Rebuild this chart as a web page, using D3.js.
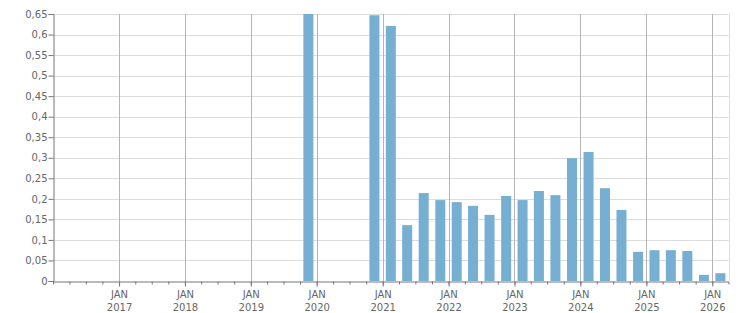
<!DOCTYPE html>
<html>
<head>
<meta charset="utf-8">
<script src="https://cdn.jsdelivr.net/npm/d3@7"></script>
<style>
  body { margin: 0; background: #fff; }
  svg text { font-family: "DejaVu Sans", Verdana, sans-serif; font-size: 10px; fill: #666; }
</style>
</head>
<body>
<svg id="chart" width="751" height="313"></svg>
<script>
// quarters (start month) and values
var quarters = ["2019-10", "2020-01", "2020-04", "2020-07", "2020-10",
    "2021-01", "2021-04", "2021-07", "2021-10",
    "2022-01", "2022-04", "2022-07", "2022-10",
    "2023-01", "2023-04", "2023-07", "2023-10",
    "2024-01", "2024-04", "2024-07", "2024-10",
    "2025-01", "2025-04", "2025-07", "2025-10",
    "2026-01"];
var values = [0.65, 0, 0, 0, 0.647,
    0.621, 0.136, 0.214, 0.197,
    0.192, 0.183, 0.161, 0.207,
    0.197, 0.219, 0.209, 0.299,
    0.314, 0.226, 0.173, 0.071,
    0.075, 0.075, 0.073, 0.015,
    0.019];
var yTicks = [0, 0.05, 0.1, 0.15, 0.2, 0.25, 0.3, 0.35, 0.4, 0.45, 0.5, 0.55, 0.6, 0.65];
var yearTicks = [2017, 2018, 2019, 2020, 2021, 2022, 2023, 2024, 2025, 2026];

var svg = d3.select("#chart"),
    margin = { top: 14, right: 22.5, bottom: 32, left: 53 },
    width = +svg.attr("width") - margin.left - margin.right,
    height = +svg.attr("height") - margin.top - margin.bottom;

var parse = d3.timeParse("%Y-%m");
var data = quarters.map(function (q, i) {
    var start = parse(q);
    return { start: start, end: d3.timeMonth.offset(start, 3), value: values[i] };
});

var x = d3.scaleTime()
    .domain([new Date(2016, 0, 1), new Date(2026, 3, 1)])
    .range([0, width]);
var y = d3.scaleLinear().domain([0, 0.65]).range([height, 0]);

var g = svg.append("g")
    .attr("transform", "translate(" + margin.left + "," + margin.top + ")");

var fmt = function (d) { return String(+d.toFixed(2)).replace(".", ","); };

// horizontal grid
g.append("g").selectAll("line")
    .data(yTicks.slice(1))
    .enter().append("line")
    .attr("x1", 0).attr("x2", width)
    .attr("y1", function (d) { return Math.round(y(d)) + 0.5; })
    .attr("y2", function (d) { return Math.round(y(d)) + 0.5; })
    .attr("stroke", "#dcdcdc");

// vertical year grid
var janDates = yearTicks.map(function (yr) { return new Date(yr, 0, 1); });
g.append("g").selectAll("line")
    .data(janDates)
    .enter().append("line")
    .attr("x1", function (d) { return Math.round(x(d)) + 0.5; })
    .attr("x2", function (d) { return Math.round(x(d)) + 0.5; })
    .attr("y1", 0).attr("y2", height)
    .attr("stroke", "#b4b4b4");

// right border
g.append("line")
    .attr("x1", Math.round(width) + 0.5).attr("x2", Math.round(width) + 0.5)
    .attr("y1", 0).attr("y2", height)
    .attr("stroke", "#dcdcdc");

// bars
var barW = 10;
g.selectAll(".bar")
    .data(data)
    .enter().append("rect")
    .attr("class", "bar")
    .attr("x", function (d) { return (x(d.start) + x(d.end)) / 2 - barW / 2; })
    .attr("width", barW)
    .attr("y", function (d) { return y(d.value); })
    .attr("height", function (d) { return height - y(d.value); })
    .attr("fill", "#77afd2");

// y axis
var yAxis = g.append("g")
    .attr("transform", "translate(0.5,0)")
    .call(d3.axisLeft(y).tickValues(yTicks).tickFormat(fmt).tickSize(5).tickPadding(1));
yAxis.select(".domain").attr("stroke", "#777");
yAxis.selectAll(".tick line").attr("stroke", "#777");
yAxis.selectAll("text").style("fill", "#666");

// x axis: quarter minor ticks
var quarterTicks = d3.timeMonth.every(3).range(new Date(2016, 3, 1), new Date(2026, 3, 1));
var xAxis = g.append("g")
    .attr("transform", "translate(0," + (Math.round(height) + 0.5) + ")")
    .call(d3.axisBottom(x).tickValues(quarterTicks).tickSize(3).tickFormat(""));
xAxis.select(".domain").attr("stroke", "#777");
xAxis.selectAll(".tick line").attr("stroke", "#777");

// x axis: JAN labels
var xLabels = g.append("g")
    .attr("transform", "translate(0," + (Math.round(height) + 0.5) + ")")
    .call(d3.axisBottom(x).tickValues(janDates).tickSize(5).tickFormat(""));
xLabels.select(".domain").remove();
xLabels.selectAll(".tick line").attr("stroke", "#777");
xLabels.selectAll(".tick").each(function (d) {
    var t = d3.select(this).append("text").attr("text-anchor", "middle").style("fill", "#666");
    t.append("tspan").attr("x", 0).attr("y", 16).text("JAN");
    t.append("tspan").attr("x", 0).attr("y", 29).text(d.getFullYear());
});
</script>
</body>
</html>
